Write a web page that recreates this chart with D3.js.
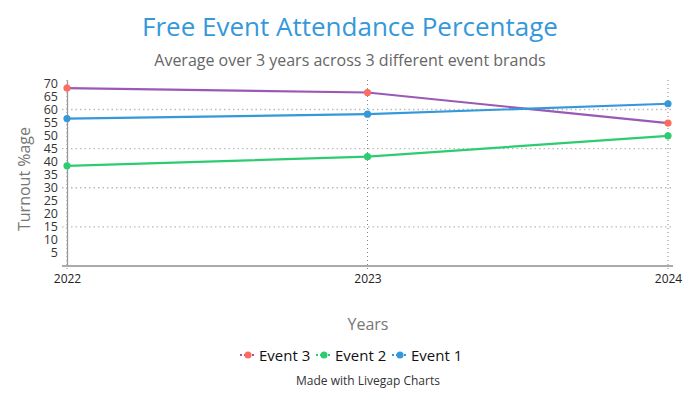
<!DOCTYPE html>
<html>
<head>
<meta charset="utf-8">
<script src="https://cdn.jsdelivr.net/npm/d3@7"></script>
<style>
  body { margin: 0; background: #fff; font-family: "Open Sans", sans-serif; }
</style>
</head>
<body>
<div id="chart"></div>
<script>
// Data
const years = ["2022", "2023", "2024"];
const event3 = [68.2, 66.5, 54.8];
const event2 = [38.4, 41.9, 49.9];
const event1 = [56.5, 58.2, 62.2];
const yTicks = [5, 10, 15, 20, 25, 30, 35, 40, 45, 50, 55, 60, 65, 70];
const yGrid = [15, 30, 45, 60];

const series = [
  { name: "Event 3", values: event3, line: "#9b59b6", dot: "#fc6c5f" },
  { name: "Event 2", values: event2, line: "#2ecc71", dot: "#2ecc71" },
  { name: "Event 1", values: event1, line: "#3498db", dot: "#3498db" }
];

const W = 700, H = 400;
const svg = d3.select("#chart").append("svg").attr("width", W).attr("height", H);

const x = d3.scalePoint().domain(years).range([67, 668]);
const y = d3.scaleLinear().domain([0, 71.3]).range([266, 80]);

// Titles
svg.append("text").attr("x", 350).attr("y", 36).attr("text-anchor", "middle")
  .style("font-size", "26px").style("fill", "#3498db").text("Free Event Attendance Percentage");
svg.append("text").attr("x", 350).attr("y", 66).attr("text-anchor", "middle")
  .style("font-size", "16px").style("fill", "#666").text("Average over 3 years across 3 different event brands");

// grid horizontal
svg.append("g").selectAll("line").data(yGrid).join("line")
  .attr("x1", 62).attr("x2", 673)
  .attr("y1", d => y(d)).attr("y2", d => y(d))
  .style("stroke", "#bbb").style("stroke-width", 1.3).style("stroke-dasharray", "1.5,3");

// grid vertical
svg.append("g").selectAll("line").data(years).join("line")
  .attr("x1", d => x(d)).attr("x2", d => x(d))
  .attr("y1", y.range()[1]).attr("y2", 272)
  .style("stroke", "#888").style("stroke-width", 1).style("stroke-dasharray", "1,3");

// y axis
const yAxis = svg.append("g").attr("transform", "translate(67,0)")
  .call(d3.axisLeft(y).tickValues(yTicks).tickSize(0).tickPadding(9));
yAxis.select(".domain").style("stroke", "#999").style("stroke-width", 1.3);
yAxis.selectAll("text").style("font-family", "Open Sans").style("font-size", "12.5px").style("fill", "#333");

// x axis
const xAxis = svg.append("g").attr("transform", "translate(0,266)")
  .call(d3.axisBottom(x).tickSize(0).tickPadding(8));
xAxis.select(".domain").attr("d", "M62,0H673").style("stroke", "#aaa").style("stroke-width", 2);
xAxis.selectAll("text").style("font-family", "Open Sans").style("font-size", "12px").style("fill", "#222");

// axis titles
svg.append("text").attr("transform", "translate(30,179) rotate(-90)").attr("text-anchor", "middle")
  .style("font-size", "16px").style("fill", "#777").text("Turnout %age");
svg.append("text").attr("x", 368).attr("y", 330).attr("text-anchor", "middle")
  .style("font-size", "16px").style("fill", "#777").text("Years");

// lines
const line = d3.line().x((d, i) => x(years[i])).y(d => y(d));
series.forEach(s => {
  svg.append("path").datum(s.values).attr("d", line)
    .style("fill", "none").style("stroke", s.line).style("stroke-width", 2.2);
  svg.append("g").selectAll("circle").data(s.values).join("circle")
    .attr("cx", (d, i) => x(years[i])).attr("cy", d => y(d)).attr("r", 3.6)
    .style("fill", s.dot);
});

// legend
const legendX = [240, 316, 392];
series.forEach((s, i) => {
  const g = svg.append("g").attr("transform", `translate(${legendX[i]},355)`);
  g.append("line").attr("x1", 0).attr("x2", 16).attr("y1", 0).attr("y2", 0)
    .style("stroke", s.line).style("stroke-width", 2).style("stroke-dasharray", "2,2");
  g.append("circle").attr("cx", 8).attr("cy", 0).attr("r", 3.5).style("fill", s.dot);
  g.append("text").attr("x", 19).attr("y", 5.5).style("font-size", "15px").style("fill", "#111").text(s.name);
});

svg.append("text").attr("x", 368).attr("y", 385).attr("text-anchor", "middle")
  .style("font-size", "12px").style("fill", "#333").text("Made with Livegap Charts");
</script>
</body>
</html>
